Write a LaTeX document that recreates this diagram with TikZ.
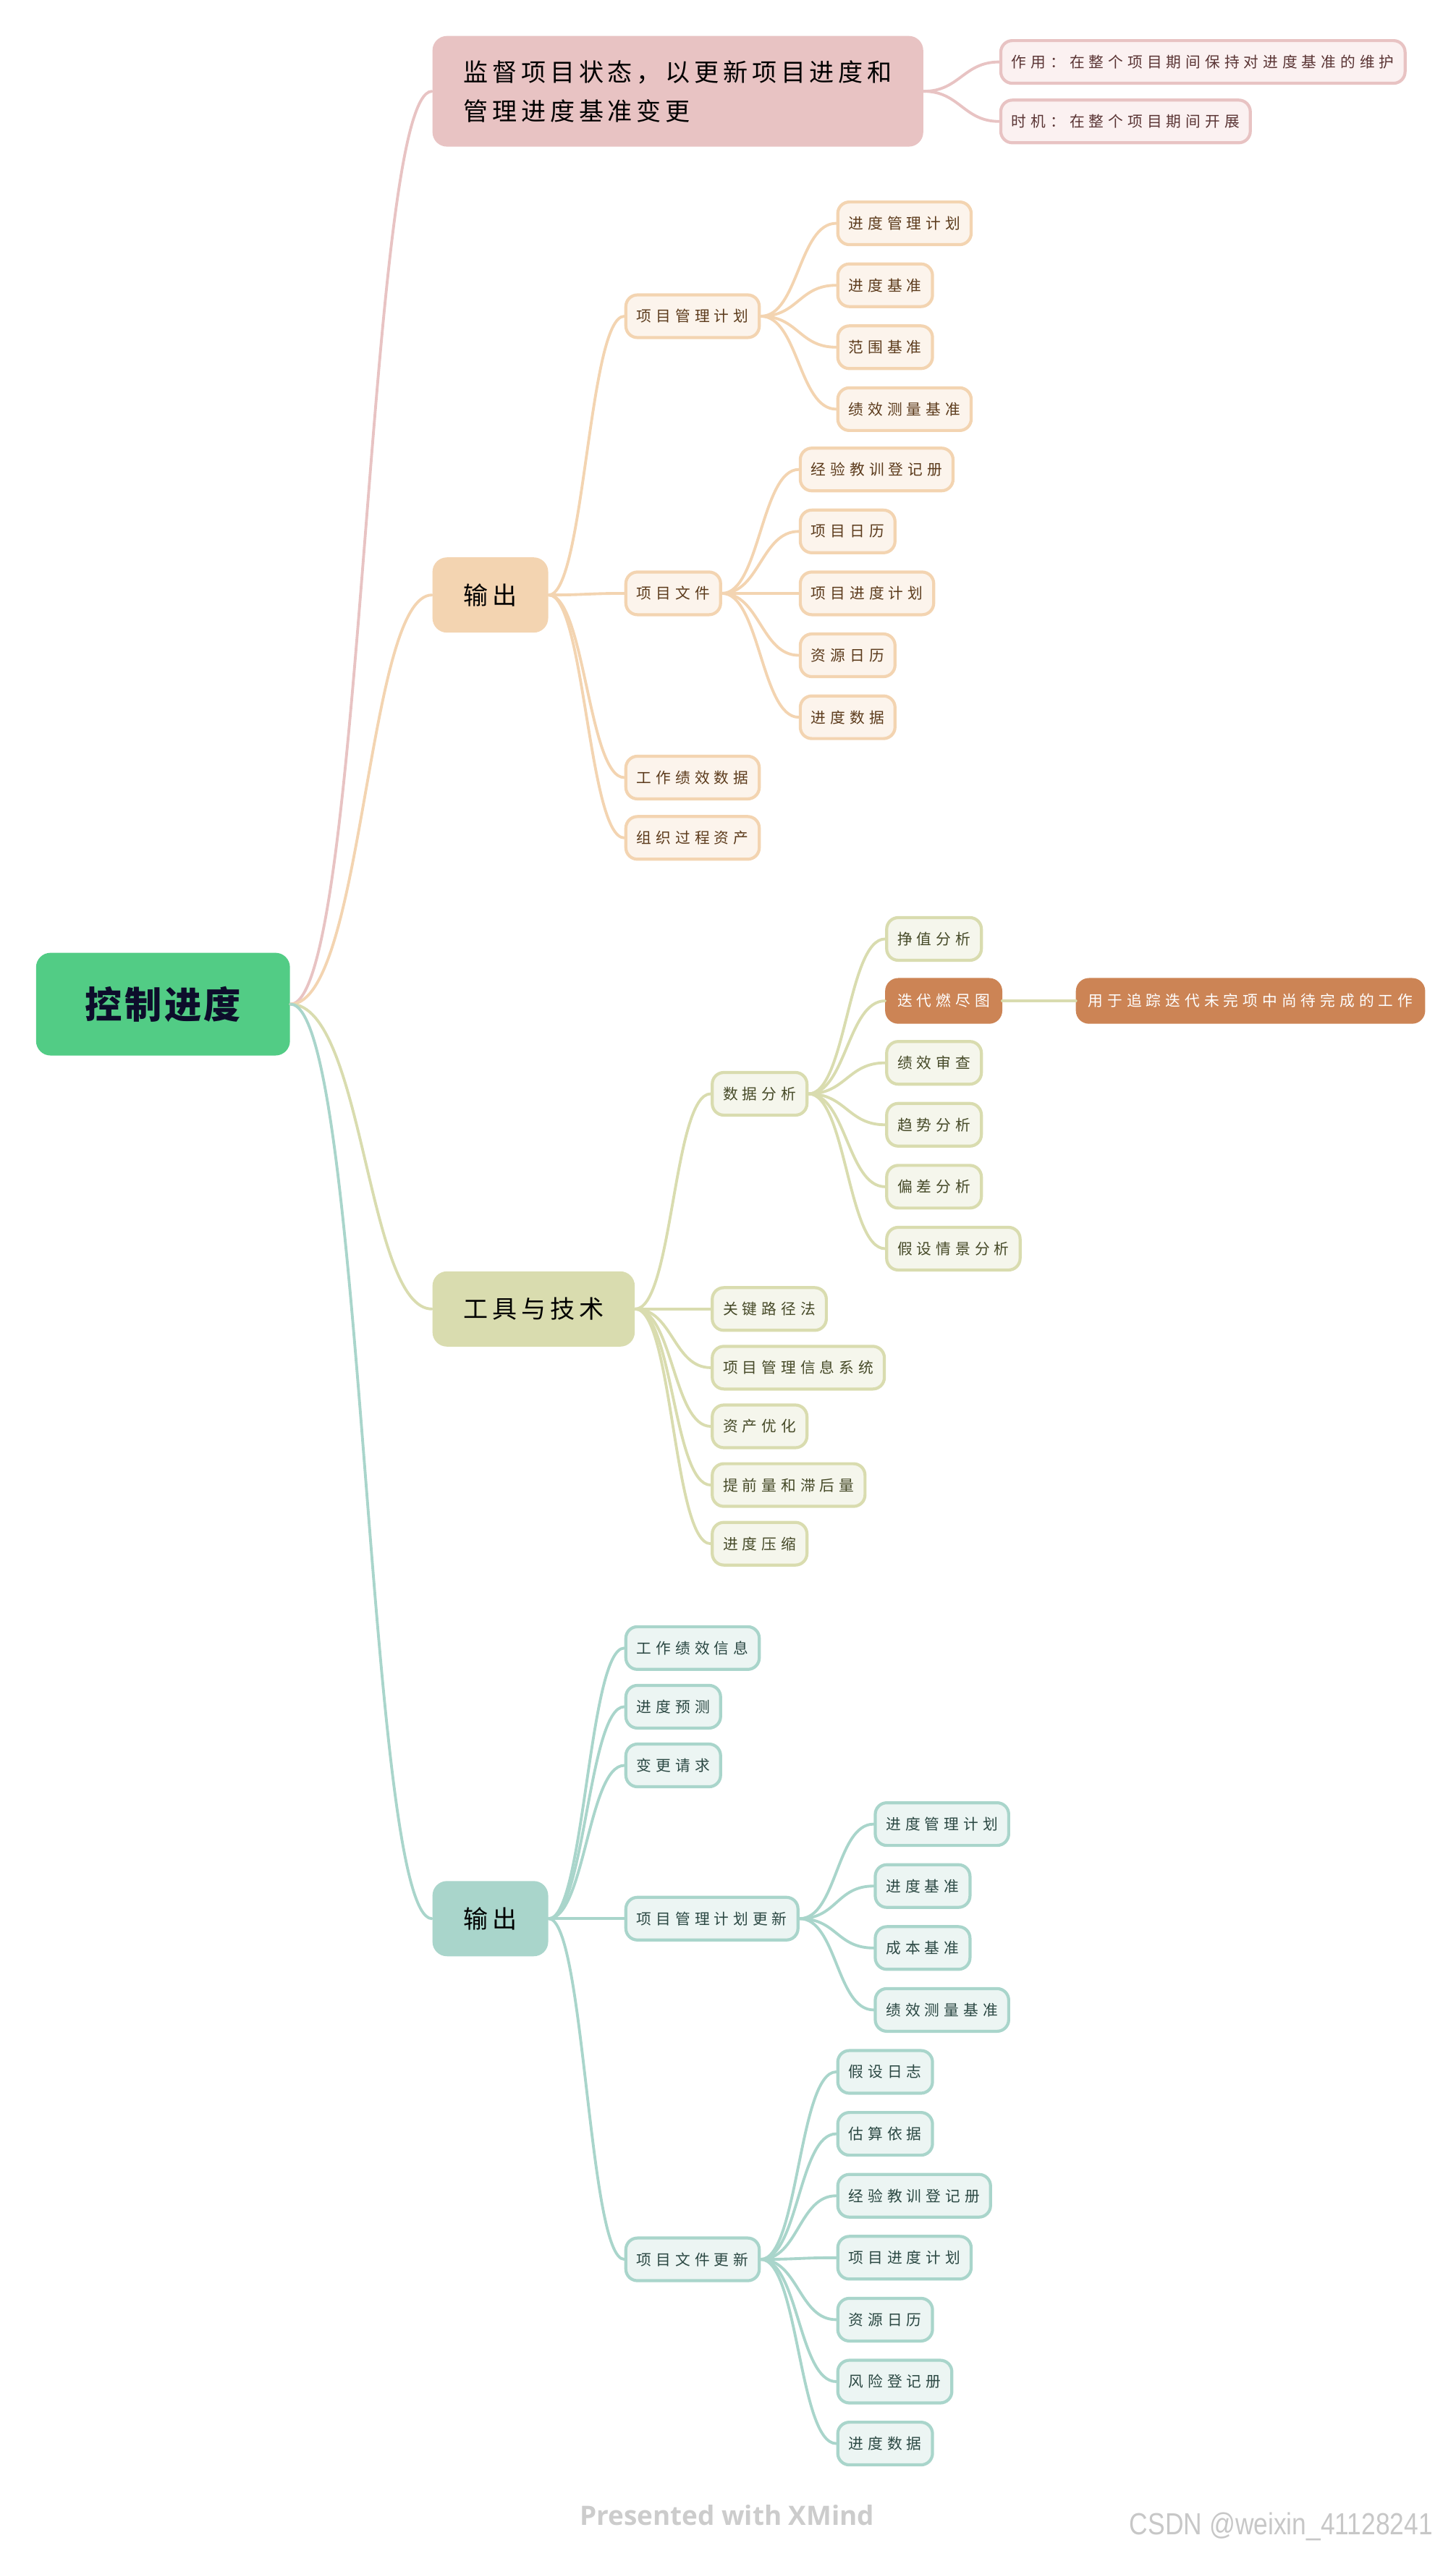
\documentclass[tikz,border=0pt]{standalone}
\usepackage{fontspec}
\setmainfont{Noto Sans CJK SC}
\newfontfamily\leaffont{Noto Sans CJK SC}[LetterSpace=29]
\newfontfamily\topicfont{Noto Sans CJK SC}[LetterSpace=17]
\newfontfamily\rootfont{Noto Sans CJK SC}[LetterSpace=7]
\newfontfamily\markfont{Open Sans}
\newfontfamily\csdnfont{Liberation Sans}

\definecolor{rootgreen}{HTML}{52CC85}
\definecolor{pinkmain}{HTML}{E8C3C3}\definecolor{pinkleaf}{HTML}{FBF1F1}\definecolor{pinktext}{HTML}{5A3434}
\definecolor{peachmain}{HTML}{F3D4B1}\definecolor{peachleaf}{HTML}{FCF4EC}\definecolor{peachtext}{HTML}{5C3B1C}
\definecolor{olivemain}{HTML}{D9DCAF}\definecolor{oliveleaf}{HTML}{F5F6EC}\definecolor{olivetext}{HTML}{464A28}
\definecolor{tealmain}{HTML}{A9D5CB}\definecolor{tealleaf}{HTML}{ECF5F3}\definecolor{tealtext}{HTML}{2B4843}
\definecolor{burnt}{HTML}{CC8455}

\tikzset{
  rootbox/.style={fill=rootgreen, rounded corners=0.2cm, minimum width=3.51cm, minimum height=1.42cm,
    font=\rootfont\bfseries\fontsize{14.6pt}{16pt}\selectfont, text={rgb,255:red,13;green,13;blue,43}},
  topic/.style={rounded corners=0.2cm, inner xsep=0.43cm, minimum height=1.04cm, anchor=west,
    font=\topicfont\fontsize{9.7pt}{15.3pt}\selectfont, text=black},
  leaf/.style={draw, line width=1.2pt, rounded corners=0.16cm, inner xsep=0.15cm, minimum height=0.59cm,
    anchor=west, font=\leaffont\fontsize{5.9pt}{6.8pt}\selectfont},
  pinkbox/.style={leaf, draw=pinkmain, fill=pinkleaf, text=pinktext},
  peachbox/.style={leaf, draw=peachmain, fill=peachleaf, text=peachtext},
  olivebox/.style={leaf, draw=olivemain, fill=oliveleaf, text=olivetext},
  tealbox/.style={leaf, draw=tealmain, fill=tealleaf, text=tealtext},
  hotbox/.style={leaf, draw=burnt, fill=burnt, text=white},
  link/.style={line width=1.1pt, line cap=round}
}

\begin{document}
\begin{tikzpicture}[x=0.022531cm, y=-0.022531cm]
\useasboundingbox (0,0) rectangle (893,1568);
\node[rootbox] (root) at (100,616) {控制进度};

% monitor
\node[topic, fill=pinkmain, align=left, minimum height=1.53cm] (watch) at (265,56) {监督项目状态，以更新项目进度和\\管理进度基准变更};
\node[pinkbox] (use) at (613,38) {作用：在整个项目期间保持对进度基准的维护};
\node[pinkbox] (when) at (613,74.5) {时机：在整个项目期间开展};
\draw[link, pinkmain] (root.east) .. controls +(45,0) and +(-40,0) .. (watch.west);
\foreach \n in {use,when} \draw[link, pinkmain] (watch.east) .. controls +(22,0) and +(-22,0) .. (\n.west);

% inputs
\node[topic, fill=peachmain] (out) at (265,365) {输出};
\draw[link, peachmain] (root.east) .. controls +(45,0) and +(-40,0) .. (out.west);
\node[peachbox] (plan) at (383,194) {项目管理计划};
\node[peachbox] (docs) at (383,364) {项目文件};
\node[peachbox] (wpd) at (383,477) {工作绩效数据};
\node[peachbox] (opa) at (383,514) {组织过程资产};
\foreach \n in {plan,docs,wpd,opa} \draw[link, peachmain] (out.east) .. controls +(22,0) and +(-22,0) .. (\n.west);
\foreach \t [count=\i] in {进度管理计划,进度基准,范围基准,绩效测量基准} {
  \node[peachbox] (plan\i) at (513,99+38*\i) {\t};
  \draw[link, peachmain] (plan.east) .. controls +(23,0) and +(-23,0) .. (plan\i.west);}
\foreach \t [count=\i] in {经验教训登记册,项目日历,项目进度计划,资源日历,进度数据} {
  \node[peachbox] (docs\i) at (490,250+38*\i) {\t};
  \draw[link, peachmain] (docs.east) .. controls +(23,0) and +(-23,0) .. (docs\i.west);}

% tools
\node[topic, fill=olivemain] (tools) at (265,803) {工具与技术};
\draw[link, olivemain] (root.east) .. controls +(45,0) and +(-40,0) .. (tools.west);
\node[olivebox] (da) at (436,671) {数据分析};
\draw[link, olivemain] (tools.east) .. controls +(23,0) and +(-23,0) .. (da.west);
\node[olivebox] (ev) at (543,576) {挣值分析};
\node[hotbox] (burn) at (543,614) {迭代燃尽图};
\node[hotbox] (note) at (660,614) {用于追踪迭代未完项中尚待完成的工作};
\node[olivebox] (pr) at (543,652) {绩效审查};
\node[olivebox] (tr) at (543,690) {趋势分析};
\node[olivebox] (va) at (543,728) {偏差分析};
\node[olivebox] (wi) at (543,766) {假设情景分析};
\foreach \n in {ev,burn,pr,tr,va,wi} \draw[link, olivemain] (da.east) .. controls +(23,0) and +(-23,0) .. (\n.west);
\draw[link, olivemain] (burn.east) -- (note.west);
\foreach \t [count=\i] in {关键路径法,项目管理信息系统,资产优化,提前量和滞后量,进度压缩} {
  \node[olivebox] (tools\i) at (436,767+36*\i) {\t};
  \draw[link, olivemain] (tools.east) .. controls +(23,0) and +(-23,0) .. (tools\i.west);}

% outputs
\node[topic, fill=tealmain] (res) at (265,1177) {输出};
\draw[link, tealmain] (root.east) .. controls +(45,0) and +(-40,0) .. (res.west);
\foreach \t [count=\i] in {工作绩效信息,进度预测,变更请求} {
  \node[tealbox] (res\i) at (383,975+36*\i) {\t};
  \draw[link, tealmain] (res.east) .. controls +(22,0) and +(-22,0) .. (res\i.west);}
\node[tealbox] (pu) at (383,1177) {项目管理计划更新};
\node[tealbox] (fu) at (383,1386) {项目文件更新};
\foreach \n in {pu,fu} \draw[link, tealmain] (res.east) .. controls +(22,0) and +(-22,0) .. (\n.west);
\foreach \t [count=\i] in {进度管理计划,进度基准,成本基准,绩效测量基准} {
  \node[tealbox] (pu\i) at (536,1081+38*\i) {\t};
  \draw[link, tealmain] (pu.east) .. controls +(23,0) and +(-23,0) .. (pu\i.west);}
\foreach \t [count=\i] in {假设日志,估算依据,经验教训登记册,项目进度计划,资源日历,风险登记册,进度数据} {
  \node[tealbox] (fu\i) at (513,1233+38*\i) {\t};
  \draw[link, tealmain] (fu.east) .. controls +(23,0) and +(-23,0) .. (fu\i.west);}

\node[font=\markfont\bfseries\fontsize{10.5pt}{12pt}\selectfont, text=black!20] (xmind) at (446,1543) {Presented with XMind};
\node[font=\csdnfont\fontsize{12pt}{14pt}\selectfont, text=black!22] (csdn) at (786,1550) {\scalebox{0.84}[1]{CSDN @weixin\_41128241}};
\end{tikzpicture}
\end{document}
